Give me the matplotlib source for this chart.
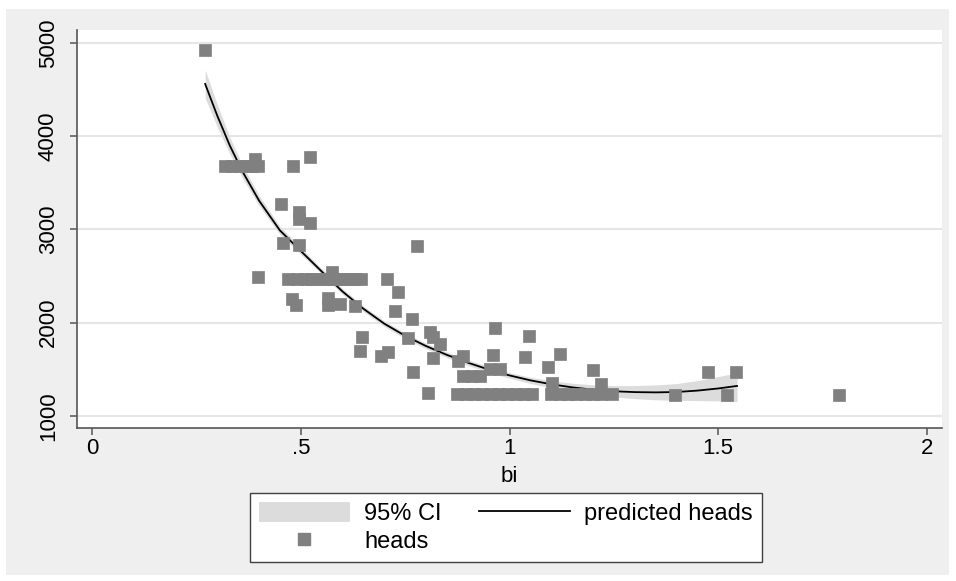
import matplotlib
matplotlib.use('Agg')
import matplotlib.pyplot as plt
from matplotlib.patches import Rectangle, Patch
from matplotlib.lines import Line2D

plt.rcParams['font.family'] = ['Liberation Sans', 'DejaVu Sans']

# scatter points (bi, heads)
bi = [0.271,
      0.318, 0.335, 0.352, 0.368, 0.383, 0.398, 0.39,
      0.481, 0.521, 0.453, 0.495, 0.495, 0.523,
      0.458, 0.496, 0.778, 0.397,
      0.47, 0.49, 0.51, 0.525, 0.54, 0.555, 0.57, 0.585, 0.60, 0.615, 0.63, 0.645, 0.575,
      0.707, 0.733, 0.479, 0.489, 0.566, 0.566, 0.594, 0.63, 0.726, 0.766,
      0.646, 0.642, 0.692, 0.709, 0.757, 0.81, 0.816, 0.834, 0.817, 0.769, 0.805,
      0.877, 0.889, 0.966, 0.961, 0.889, 0.909, 0.929, 0.953, 0.977,
      1.047, 1.037, 1.121, 1.092, 1.2, 1.102, 1.22,
      0.875, 0.895, 0.915, 0.935, 0.955, 0.975, 0.995, 1.015, 1.035, 1.055,
      1.10, 1.12, 1.14, 1.16, 1.18, 1.20, 1.22, 1.245,
      1.397, 1.52, 1.789, 1.475, 1.543]
heads = [4925,
         3685, 3685, 3685, 3685, 3685, 3685, 3760,
         3680, 3775, 3273, 3185, 3110, 3070,
         2855, 2834, 2823, 2491,
         2469, 2469, 2469, 2469, 2469, 2469, 2469, 2469, 2469, 2469, 2469, 2469, 2545,
         2469, 2330, 2255, 2190, 2265, 2190, 2200, 2180, 2126, 2035,
         1847, 1697, 1643, 1686, 1836, 1900, 1847, 1772, 1622, 1472, 1247,
         1590, 1640, 1944, 1654, 1429, 1429, 1429, 1504, 1504,
         1858, 1633, 1665, 1526, 1494, 1354, 1338,
         1238, 1238, 1238, 1238, 1238, 1238, 1238, 1238, 1238, 1238,
         1238, 1238, 1238, 1238, 1238, 1238, 1238, 1238,
         1225, 1225, 1225, 1472, 1472]

# fitted curve and its 95% CI
fit_x = [0.271, 0.30, 0.33, 0.36, 0.40, 0.45, 0.50, 0.55, 0.60, 0.65, 0.70, 0.75,
         0.80, 0.85, 0.90, 0.95, 1.00, 1.05, 1.10, 1.15, 1.20, 1.25, 1.30, 1.35,
         1.40, 1.45, 1.50, 1.545]
fit_y = [4560, 4220, 3900, 3625, 3310, 2990, 2770, 2550, 2335, 2150, 1990, 1860,
         1750, 1655, 1572, 1498, 1435, 1382, 1340, 1307, 1282, 1265, 1256, 1253,
         1257, 1272, 1295, 1322]
ci_lo = [4410, 4100, 3810, 3555, 3255, 2948, 2735, 2520, 2305, 2120, 1960, 1830,
         1720, 1625, 1542, 1468, 1405, 1349, 1302, 1263, 1230, 1205, 1186, 1173,
         1167, 1165, 1162, 1155]
ci_hi = [4710, 4340, 3990, 3695, 3365, 3032, 2805, 2580, 2365, 2180, 2020, 1890,
         1780, 1685, 1602, 1528, 1465, 1415, 1378, 1351, 1334, 1325, 1326, 1333,
         1347, 1379, 1423, 1461]

xticks = [0, 0.5, 1, 1.5, 2]
xticklabels = ['0', '.5', '1', '1.5', '2']
yticks = [1000, 2000, 3000, 4000, 5000]

fs_tick = 16
fs_leg = 17
grey = '#808080'

fig = plt.figure(figsize=(9.56, 5.81), dpi=100, facecolor='white')
# light grey graph region
bg = Rectangle((6/956, 1 - 575/581), 943/956, 566/581,
               transform=fig.transFigure, facecolor='#efefef',
               edgecolor='none', zorder=-10)
fig.patches.append(bg)

ax = fig.add_axes([77/956, 1 - 428/581, 865/956, 398/581])
ax.set_facecolor('white')

ax.fill_between(fit_x, ci_lo, ci_hi, color='#dcdcdc', lw=0, zorder=2)
ax.plot(fit_x, fit_y, color='black', lw=1.3, zorder=3)
ax.plot(bi, heads, 's', color=grey, ms=8.5, mec=grey, mew=0.5, zorder=4)

ax.set_xlim(-0.036, 2.036)
ax.set_ylim(871, 5139)
ax.set_xticks(xticks)
ax.set_xticklabels(xticklabels)
ax.set_yticks(yticks)
ax.set_yticklabels([str(v) for v in yticks], rotation=90, va='center')

ax.grid(axis='y', color='#e6e6e6', lw=1.5, zorder=1)
ax.set_axisbelow(True)
for side in ['top', 'right']:
    ax.spines[side].set_visible(False)
for side in ['left', 'bottom']:
    ax.spines[side].set_color('#555555')
    ax.spines[side].set_linewidth(1.2)
ax.tick_params(colors='#555555', labelcolor='black', labelsize=fs_tick,
               length=5, width=1.1)
ax.tick_params(axis='x', pad=2)
ax.tick_params(axis='y', pad=8)
ax.set_xlabel('bi', fontsize=fs_tick, labelpad=5)

handles = [Patch(facecolor='#dcdcdc', edgecolor='none'),
           Line2D([], [], marker='s', ls='none', color=grey, ms=8),
           Line2D([], [], color='black', lw=1.3)]
labels = ['95% CI', 'heads', 'predicted heads']
leg = fig.legend(handles, labels, loc='upper center', ncol=2,
                 bbox_to_anchor=(506/956, 1 - 493/581), fontsize=fs_leg,
                 frameon=True, fancybox=False, framealpha=1,
                 edgecolor='#404040', facecolor='white',
                 handlelength=3.85, handleheight=0.9, handletextpad=0.6,
                 columnspacing=1.6, labelspacing=0.22, borderpad=0.38,
                 borderaxespad=0)
leg.get_frame().set_linewidth(1.0)

fig.savefig('out.png', dpi=100, facecolor=fig.get_facecolor())
